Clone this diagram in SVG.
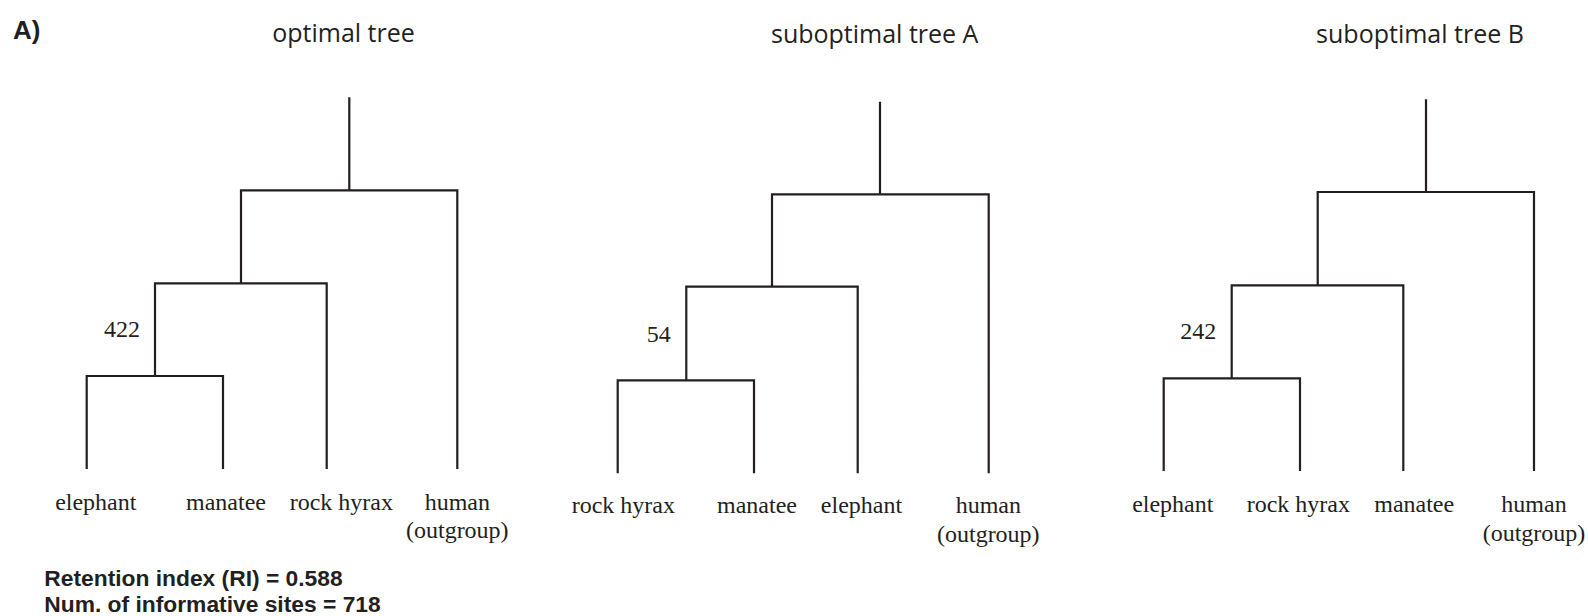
<svg xmlns="http://www.w3.org/2000/svg" width="1588" height="616" viewBox="0 0 1588 616">
<style>
.br{fill:none;stroke:#231f20;stroke-width:2.2;stroke-linecap:butt;stroke-linejoin:miter}
.lab{font-family:"Liberation Serif","Times New Roman",serif;font-size:24px;fill:#231f20;text-anchor:middle}
.num{font-family:"Liberation Serif","Times New Roman",serif;font-size:24px;fill:#231f20;text-anchor:end}
.ttl{font-family:"Open Sans","Noto Sans",sans-serif;font-size:25px;fill:#231f20;text-anchor:middle}
.bold{font-family:"Liberation Sans",Arial,sans-serif;font-weight:bold;fill:#231f20}
</style>
<rect width="1588" height="616" fill="#ffffff"/>
<text id="panel" class="bold" x="13" y="39" font-size="26">A)</text>

<g id="titles">
<text class="ttl" x="343.5" y="42">optimal tree</text>
<text class="ttl" x="874.7" y="42.5">suboptimal tree A</text>
<text class="ttl" x="1420" y="42.5">suboptimal tree B</text>
</g>

<g id="connectors">
<!-- optimal tree -->
<path class="br" d="M349.3,97.3 V190.3 M241,283.3 V190.3 H457.3 V469 M155,376 V283.3 H326.7 V469 M86.7,469 V376 H223 V469"/>
<!-- suboptimal tree A -->
<path class="br" d="M880,101.7 V194.3 M772,286.7 V194.3 H988.7 V473.3 M686.3,380.3 V286.7 H857.7 V473.3 M617.7,473.3 V380.3 H754 V473.3"/>
<!-- suboptimal tree B -->
<path class="br" d="M1426,99.3 V192 M1317.7,285.3 V192 H1534 V471 M1231.7,378.3 V285.3 H1403.3 V471 M1163.7,471 V378.3 H1300 V471"/>
</g>

<g id="optimal-elephant"><text class="lab" x="95.8" y="510">elephant</text></g>
<g id="optimal-manatee"><text class="lab" x="226" y="510">manatee</text></g>
<g id="optimal-rockhyrax"><text class="lab" x="341.3" y="510">rock hyrax</text></g>
<g id="optimal-human"><text class="lab" x="457.3" y="510">human</text><text class="lab" x="457.3" y="538.3">(outgroup)</text></g>
<g id="optimal-support"><text class="num" x="140" y="336.7">422</text></g>

<g id="subA-rockhyrax"><text class="lab" x="623.3" y="513.3">rock hyrax</text></g>
<g id="subA-manatee"><text class="lab" x="757" y="513.3">manatee</text></g>
<g id="subA-elephant"><text class="lab" x="861.5" y="513.3">elephant</text></g>
<g id="subA-human"><text class="lab" x="988.3" y="513.3">human</text><text class="lab" x="988.3" y="541.7">(outgroup)</text></g>
<g id="subA-support"><text class="num" x="670.7" y="341.7">54</text></g>

<g id="subB-elephant"><text class="lab" x="1172.8" y="511.7">elephant</text></g>
<g id="subB-rockhyrax"><text class="lab" x="1298.3" y="511.7">rock hyrax</text></g>
<g id="subB-manatee"><text class="lab" x="1414.2" y="511.7">manatee</text></g>
<g id="subB-human"><text class="lab" x="1534" y="511.7">human</text><text class="lab" x="1534" y="540.7">(outgroup)</text></g>
<g id="subB-support"><text class="num" x="1216.3" y="339.3">242</text></g>

<g id="stats">
<text class="bold" x="44.3" y="586" font-size="22.8">Retention index (RI) = 0.588</text>
<text class="bold" x="44.3" y="612" font-size="22.8">Num. of informative sites = 718</text>
</g>
</svg>
